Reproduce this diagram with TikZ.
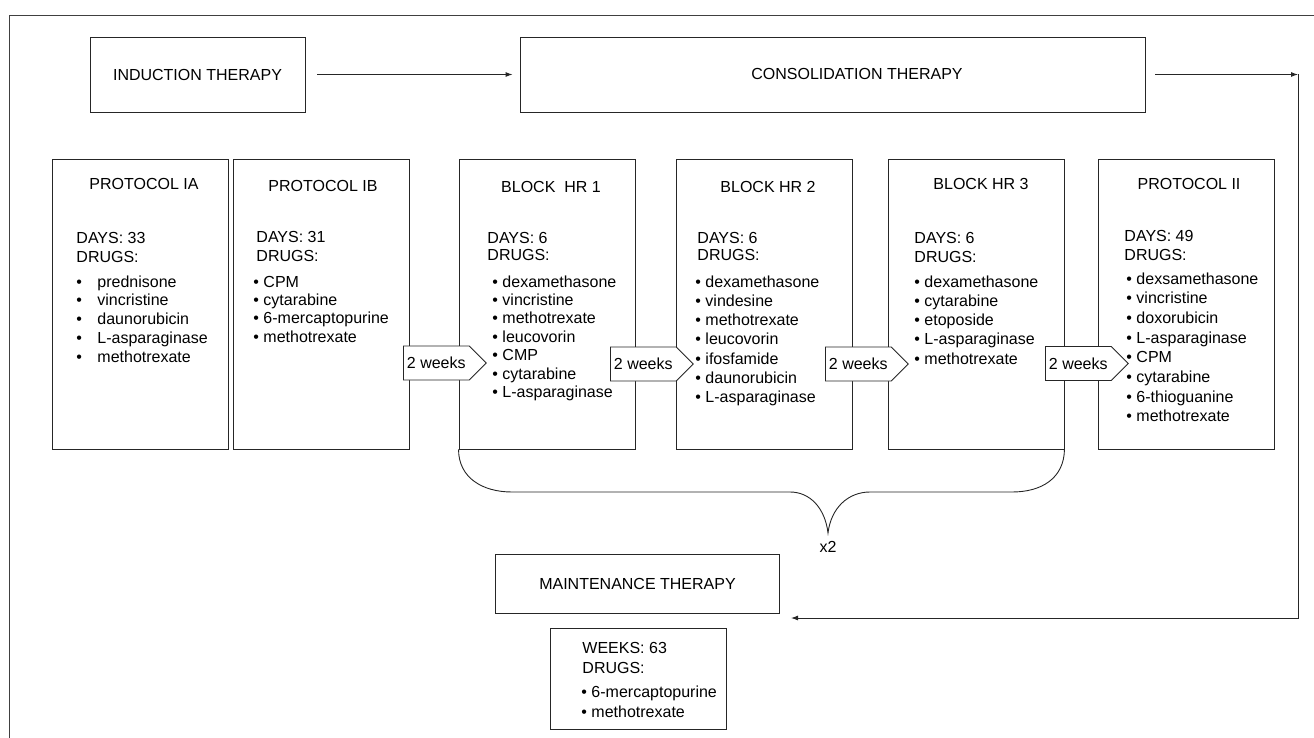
\documentclass[tikz,border=0pt]{standalone}
\usepackage{fontspec}
\setmainfont{Liberation Sans}
\usetikzlibrary{shapes.symbols}
\usetikzlibrary{arrows.meta}
\usetikzlibrary{positioning}

\tikzset{
  box/.style={draw=black!85, line width=0.9pt, inner sep=0pt},
  block/.style={box, minimum width=176pt, minimum height=290pt},
  head/.style={box, minimum height=75pt, font=\fontsize{16}{19}\selectfont},
  ttl/.style={inner sep=0pt, font=\fontsize{16}{19}\selectfont},
  txt/.style={inner sep=0pt, anchor=base west, font=\fontsize{16}{19}\selectfont},
  gap/.style={signal, signal to=east, signal pointer angle=90, draw=black!85,
    line width=0.9pt, fill=white, minimum height=34pt, inner xsep=3.5pt,
    anchor=west, font=\fontsize{16}{19}\selectfont},
}

\begin{document}
\begin{tikzpicture}[x=1pt,y=-1pt,>={Latex[length=7pt,width=5pt]},line width=0.9pt]
\useasboundingbox (0,0) rectangle (1314,738);
\draw[black!75] (9,738) -- (9,15) -- (1314,15);

% therapy phases
\node[head, minimum width=215pt] (ind) at (197.5,74.5) {INDUCTION THERAPY};
\node[head, minimum width=625pt] (cons) at (832.5,74.5) {};
\node[ttl] (consl) at (857,74) {CONSOLIDATION THERAPY};
\node[head, minimum width=284pt, minimum height=59pt] (mt) at (637.5,583.5) {MAINTENANCE THERAPY};

% protocol blocks
\node[block] (ia) at (140,304) {};
\node[block] (ib) at (321.5,304) {};
\node[block] (hr1) at (547,304) {};
\node[block] (hr2) at (764.5,304) {};
\node[block] (hr3) at (976,304) {};
\node[block] (p2) at (1186,304) {};
\node[box, minimum width=176pt, minimum height=101pt] (wk) at (638.5,678.5) {};

% protocol IA
\node[ttl] (iat) at (144,184) {PROTOCOL IA};
\node[txt] (iad) at (76,243) {DAYS: 33};
\node[txt] (iag) at (76,262) {DRUGS:};
\foreach \d [count=\i from 0] in {prednisone, vincristine, daunorubicin, L-asparaginase, methotrexate}
  \node[txt] (ia\i) at ({76},{287+18.8*\i}) {\makebox[21pt][l]{\textbullet}\d};

% protocol IB
\node[ttl] (ibt) at (323,186) {PROTOCOL IB};
\node[txt] (ibd) at (256,242) {DAYS: 31};
\node[txt] (ibg) at (256,261) {DRUGS:};
\foreach \d [count=\i from 0] in {CPM, cytarabine, 6-mercaptopurine, methotrexate}
  \node[txt] (ib\i) at ({253},{287+18.4*\i}) {\textbullet\ \d};

% block HR 1
\node[ttl] (hr1t) at (551,187) {BLOCK\ \ HR 1};
\node[txt] (hr1d) at (487,243) {DAYS: 6};
\node[txt] (hr1g) at (487,260) {DRUGS:};
\foreach \d [count=\i from 0] in {dexamethasone, vincristine, methotrexate, leucovorin, CMP, cytarabine, L-asparaginase}
  \node[txt] (hr1\i) at ({492},{287+18.4*\i}) {\textbullet\ \d};

% block HR 2
\node[ttl] (hr2t) at (768,187) {BLOCK HR 2};
\node[txt] (hr2d) at (697,243) {DAYS: 6};
\node[txt] (hr2g) at (697,260) {DRUGS:};
\foreach \d [count=\i from 0] in {dexamethasone, vindesine, methotrexate, leucovorin, ifosfamide, daunorubicin, L-asparaginase}
  \node[txt] (hr2\i) at ({695},{287+19.3*\i}) {\textbullet\ \d};

% block HR 3
\node[ttl] (hr3t) at (981,184) {BLOCK HR 3};
\node[txt] (hr3d) at (914,243) {DAYS: 6};
\node[txt] (hr3g) at (914,262) {DRUGS:};
\foreach \d [count=\i from 0] in {dexamethasone, cytarabine, etoposide, L-asparaginase, methotrexate}
  \node[txt] (hr3\i) at ({914},{287+19.25*\i}) {\textbullet\ \d};

% protocol II
\node[ttl] (p2t) at (1189,184) {PROTOCOL II};
\node[txt] (p2d) at (1124,241) {DAYS: 49};
\node[txt] (p2g) at (1124,260) {DRUGS:};
\foreach \d [count=\i from 0] in {dexsamethasone, vincristine, doxorubicin, L-asparaginase, CPM, cytarabine, 6-thioguanine, methotrexate}
  \node[txt] (p2\i) at ({1126},{284+19.7*\i}) {\textbullet\ \d};

% maintenance
\node[txt] (wkd) at (582,653) {WEEKS: 63};
\node[txt] (wkg) at (582,673) {DRUGS:};
\foreach \d [count=\i from 0] in {6-mercaptopurine, methotrexate}
  \node[txt] (wk\i) at ({581},{697+20*\i}) {\textbullet\ \d};

% two week breaks
\node[gap] (w1) at (403,363) {2 weeks};
\node[gap] (w2) at (610,364) {2 weeks};
\node[gap] (w3) at (825,364) {2 weeks};
\node[gap] (w4) at (1045,363.5) {2 weeks};

% brace over the HR blocks
\draw[black!85] (hr1.south west) .. controls +(0,28) and (482,492) .. (512,492) -- (790,492)
  .. controls (810,492) and (825,508) .. (828,533)
  .. controls (831,508) and (848,492) .. (870,492) -- (1012,492)
  .. controls (1042,492) and (1064,478) .. (hr3.south east);
\node[ttl] (x2) at (828,547) {x2};

% flow
\coordinate (turn) at (1298,74.5);
\coordinate (back) at (791,618);
\draw[->, black!85, shorten <=12pt, shorten >=7pt] (ind) -- (cons);
\draw[->, black!85, shorten <=10pt] (cons) -- (turn);
\draw[->, black!85] (turn) |- (back);
\end{tikzpicture}
\end{document}
